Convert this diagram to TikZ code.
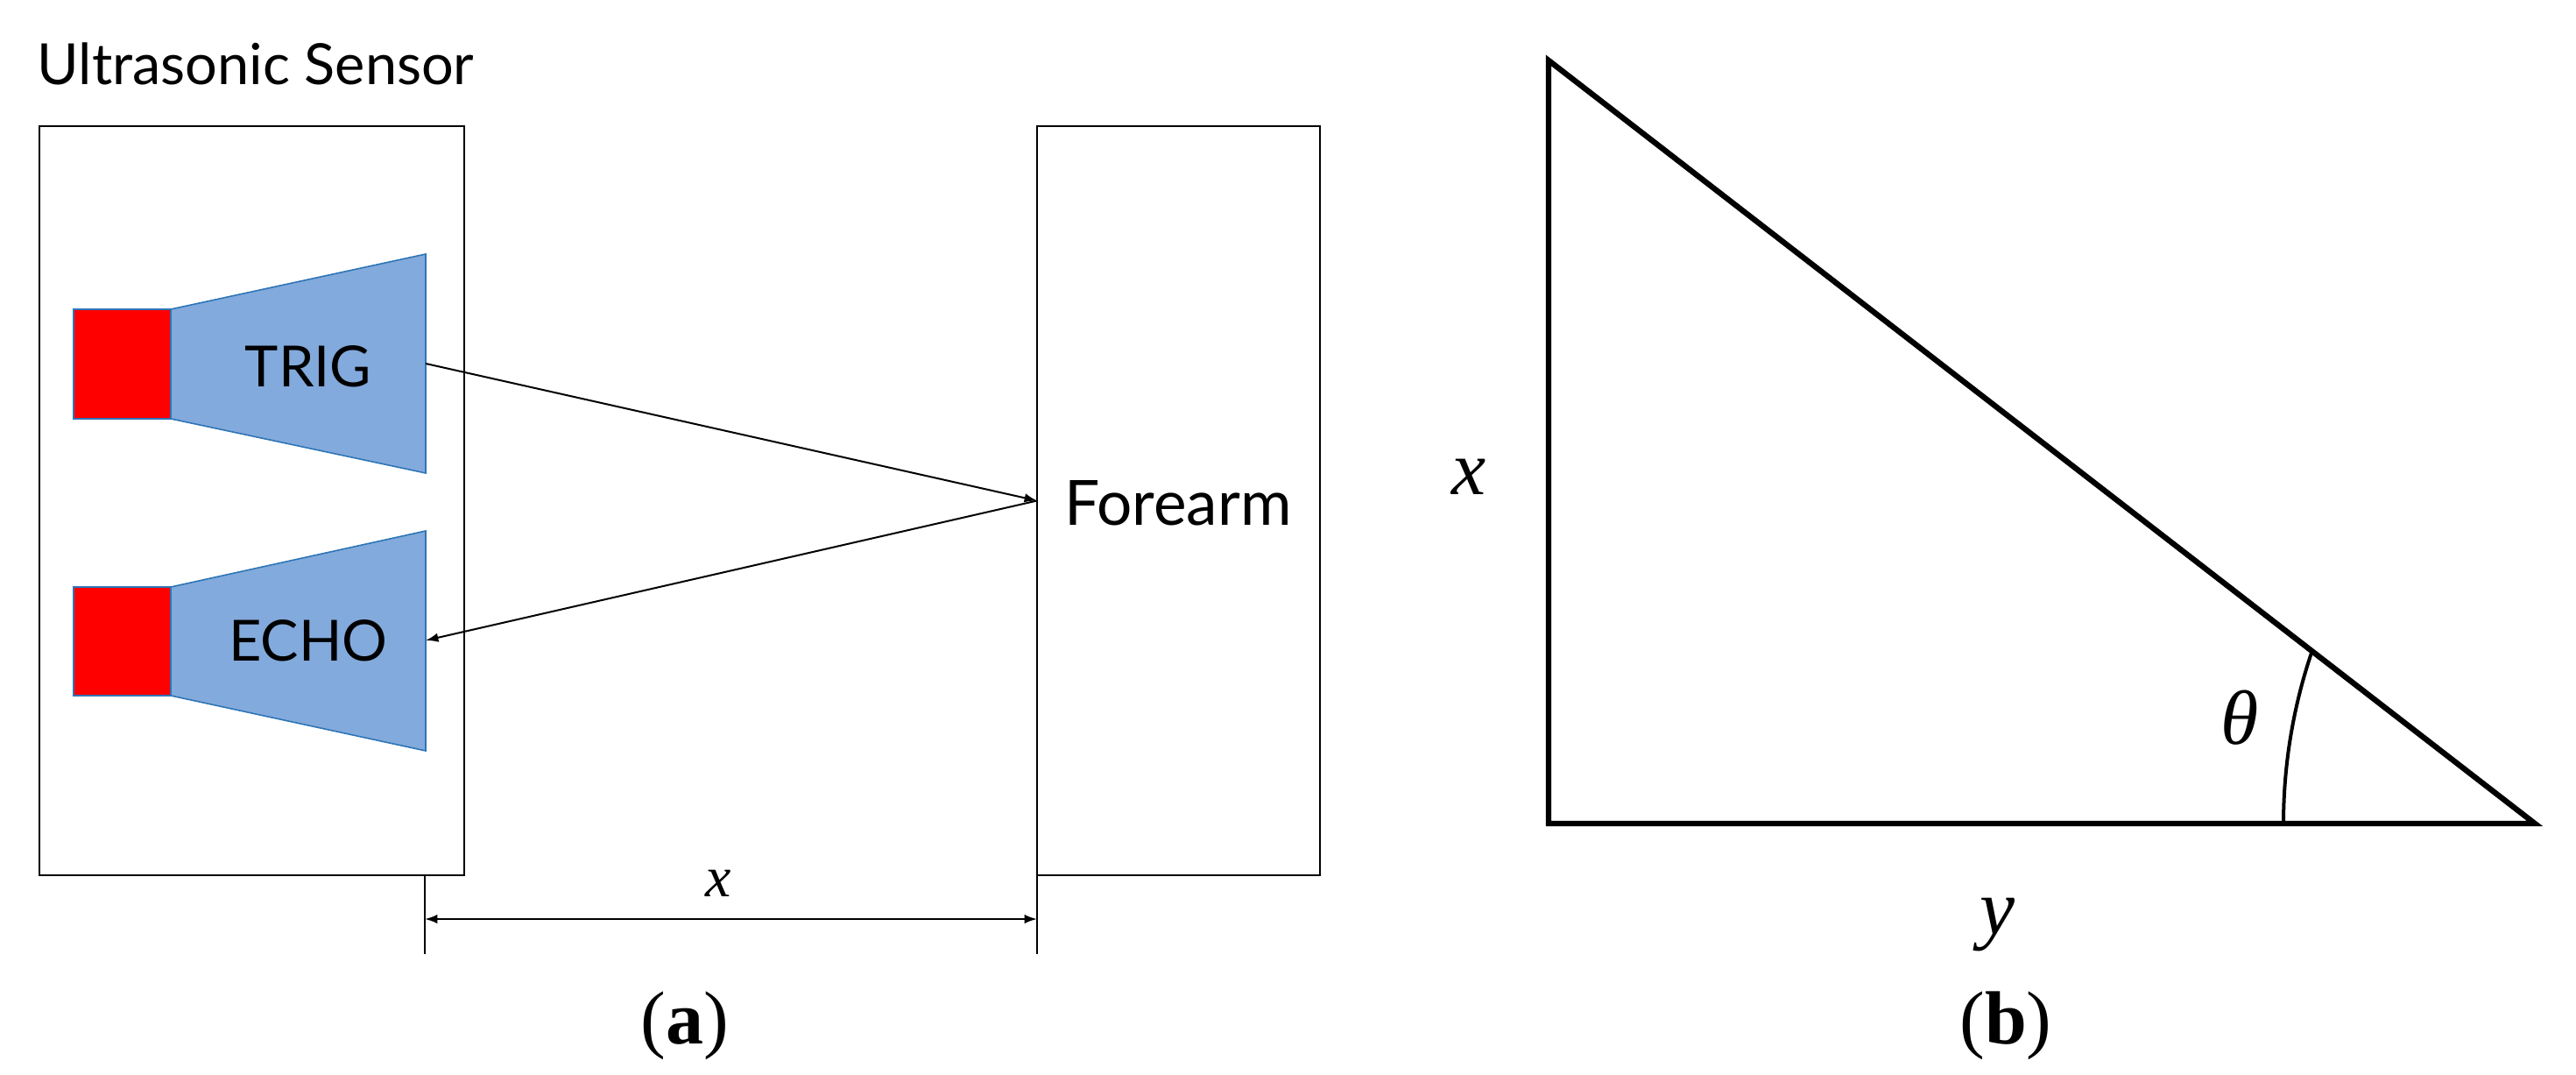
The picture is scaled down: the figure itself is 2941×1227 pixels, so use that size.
\documentclass[tikz,border=0pt]{standalone}
\usepackage{fontspec}
\setmainfont{Liberation Serif}
\newfontfamily\labelfont{Lato}
\usetikzlibrary{arrows.meta}
\definecolor{hornblue}{RGB}{131,170,220}
\definecolor{hornedge}{RGB}{46,117,182}
\definecolor{emitred}{RGB}{255,0,0}
\tikzset{
  thinbox/.style={draw=black, line width=0.55pt, inner sep=0pt, outer sep=0pt},
  horn/.style={fill=hornblue, draw=hornedge, line width=0.4pt},
  emitter/.style={fill=emitred, draw=hornedge, line width=0.5pt, inner sep=0pt, outer sep=0pt},
  conn/.style={draw=black, line width=0.5pt, -{Latex[length=3.6pt,width=2.6pt]}},
  dimline/.style={draw=black, line width=0.5pt, {Latex[length=3.6pt,width=2.6pt]}-{Latex[length=3.6pt,width=2.6pt]}},
  extline/.style={draw=black, line width=0.5pt},
  sanslabel/.style={font=\labelfont\fontsize{16.2}{18}\selectfont, inner sep=0pt},
  mathlabel/.style={inner sep=0pt},
  trianglestyle/.style={draw=black, line width=1.6pt, line join=miter},
}
\begin{document}
\begin{tikzpicture}[x=0.25pt, y=-0.25pt]
\useasboundingbox (0,0) rectangle (2941,1227);

% ---------- panel (a) ----------
\node[sanslabel, anchor=base west] (title) at (42,97) {Ultrasonic Sensor};

\node[thinbox, minimum width=121.25pt, minimum height=213.75pt] (sensor) at (287.5,571.5) {};
\node[thinbox, minimum width=80.75pt, minimum height=213.75pt] (forearm) at (1345.5,571.5) {};
\node[sanslabel, font=\labelfont\fontsize{17.8}{20}\selectfont, anchor=base] (forearmtext) at (1345,600) {Forearm};

% TRIG transducer
\path[horn] (195,353) -- (486,290) -- (486,540) -- (195,478) -- cycle;
\node[emitter, minimum width=27.75pt, minimum height=31.25pt] (trigsq) at (139.5,415.5) {};
\node[sanslabel, anchor=base] (trigtext) at (352,442) {TRIG};
\coordinate (trigface) at (486,415);

% ECHO transducer
\path[horn] (195,670) -- (486,606) -- (486,857) -- (195,794) -- cycle;
\node[emitter, minimum width=27.75pt, minimum height=31pt] (echosq) at (139.5,732) {};
\node[sanslabel, anchor=base] (echotext) at (352,755) {ECHO};
\coordinate (echoface) at (486,731);

% sound path
\draw[conn] (trigface) -- (forearm.west);
\draw[conn] (forearm.west) -- (echoface);

% dimension x
\coordinate (extLtop) at (485,999);
\coordinate (extLbot) at (485,1089);
\coordinate (extRbot) at (1184,1089);
\draw[extline] (extLtop) -- (extLbot);
\draw[extline] (forearm.south west) -- (extRbot);
\coordinate (dimL) at (485,1049);
\coordinate (dimR) at (1184,1049);
\draw[dimline] (dimL) -- (dimR);
\node[mathlabel, anchor=base, font=\fontsize{16.5}{18}\selectfont] (dimx) at (820,1023) {\textit{x}};

\node[mathlabel, anchor=base, font=\fontsize{21.5}{24}\selectfont] (capa) at (782,1191) {(\textbf{a})};

% ---------- panel (b) ----------
\coordinate (A) at (1768,69);
\coordinate (B) at (1768,940);
\coordinate (C) at (2894,940);
\draw[trianglestyle] (A) -- (B) -- (C) -- cycle;
\draw[black, line width=1pt] (2607,940) arc[start angle=180, end angle=199, radius=610];

\node[mathlabel, anchor=base, font=\fontsize{22}{24}\selectfont] (sidex) at (1677,565) {\textit{x}};
\node[mathlabel, anchor=base, font=\fontsize{22.5}{24}\selectfont] (sidey) at (2280,1066) {\textit{y}};
\node[mathlabel, anchor=base, font=\fontsize{22}{24}\selectfont] (theta) at (2557,850) {\textit{θ}};

\node[mathlabel, anchor=base, font=\fontsize{21.5}{24}\selectfont] (capb) at (2290,1191) {(\textbf{b})};
\end{tikzpicture}
\end{document}
